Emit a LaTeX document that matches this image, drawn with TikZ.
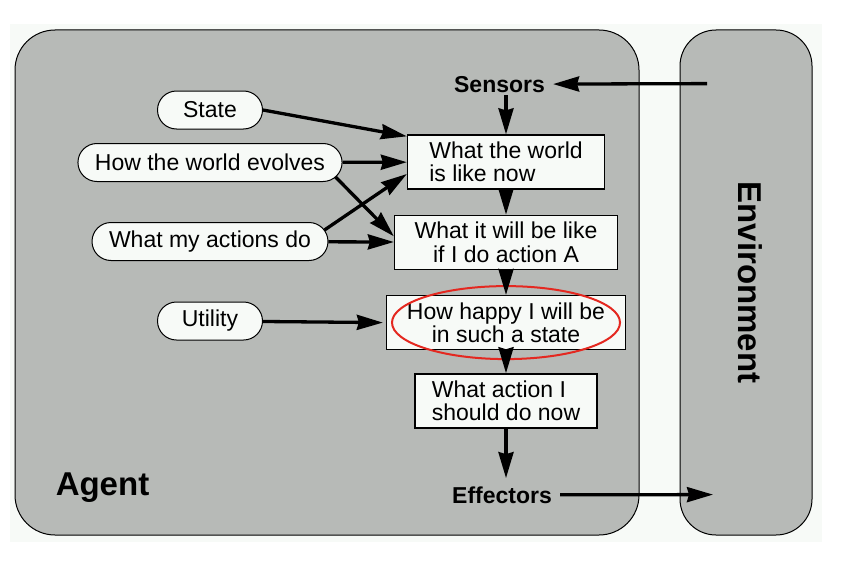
\documentclass[tikz,border=0pt]{standalone}
\usepackage{fontspec}
\setmainfont{Liberation Sans}
\usepackage{xcolor}
\usepackage{tikz}
\usetikzlibrary{arrows.meta}
\usetikzlibrary{positioning}
\definecolor{panel}{RGB}{183,186,183}
\definecolor{paper}{RGB}{247,250,247}
\definecolor{ring}{RGB}{228,40,32}
\tikzset{belief/.style={draw=black, fill=paper, rounded corners=19pt, line width=1pt, minimum width=105pt, minimum height=38pt, inner xsep=17pt, inner ysep=0pt}}
\tikzset{stage/.style={draw=black, fill=paper, line width=1.3pt, minimum height=54pt, inner sep=0pt}}
\tikzset{link/.style={line width=3.3pt, -{Stealth[length=26pt,width=15pt,inset=2pt]}}}
\tikzset{port/.style={font=\fontsize{23}{24}\bfseries, inner sep=8pt}}

\begin{document}
\begin{tikzpicture}[x=1pt, y=-1pt, node distance={25pt}, font=\fontsize{23}{23.5}\selectfont]
		\useasboundingbox (0,0) rectangle (850,578);
		\fill[white] (0,0) rectangle (850,578);
		\fill[paper] (10,24) rectangle (822,542);
		\draw[fill=panel, line width=1pt, rounded corners=40pt] (15,30) rectangle (639,535);
		\draw[fill=panel, line width=1pt, rounded corners=36pt] (680,30) rectangle (812,535);

		\node[font=\fontsize{33}{34}\bfseries, anchor=base, inner sep=0pt] (agent) at (102.5,495) {Agent};
		\node[font=\fontsize{33}{34}\bfseries, rotate=-90, inner sep=0pt] (env) at (750.5,282.5) {Environment};
		\node[port, anchor=base] (sensors) at (499.5,92) {Sensors};
		\node[port, anchor=base] (effectors) at (502,503) {Effectors};
		\coordinate (envin) at (707,83.6);
		\coordinate (envout) at (713,494.6);

		\node[stage, minimum width=197pt, align=left] (world) at (506,162) {What the world\\is like now};
		\node[stage, minimum width=223pt, align=center] (future) [below=of world] {What it will be like\\if I do action A};
		\node[stage, minimum width=239pt, align=center] (happy) [below=of future] {How happy I will be\\in such a state};
		\node[stage, minimum width=182pt, align=left] (act) [below=23pt of happy] {What action I\\should do now};

		\node[belief] (state) at (210,110) {State};
		\node[belief] (evolves) at (210,162.5) {How the world evolves};
		\node[belief] (actions) at (210,241.5) {What my actions do};
		\node[belief] (utility) at (210,321) {Utility};

		\draw[ring, line width=2pt] (happy.center) ellipse [x radius=114pt, y radius=36.5pt];

		\begin{scope}[link]
			\draw (envin) -- (sensors.east);
			\draw ([yshift=5pt]sensors.south -| world.north) -- (world.north);
			\draw (world) -- (future);
			\draw (future) -- (happy);
			\draw (happy) -- (act);
			\draw (act.south) -- (effectors.north -| act.south);
			\draw (effectors.east) -- (envout);
			\draw (state.east) -- ([yshift=-2pt]world.north west);
			\draw (evolves) -- (world);
			\draw ([xshift=-7pt,yshift=5pt]evolves.south east) -- ([yshift=6pt]future.west);
			\draw ([xshift=-4pt,yshift=-8pt]actions.north east) -- ([yshift=-12pt]world.west);
			\draw (actions) -- (future);
			\draw (utility) -- ([xshift=-3pt]happy.west);
		\end{scope}
	\end{tikzpicture}
\end{document}
